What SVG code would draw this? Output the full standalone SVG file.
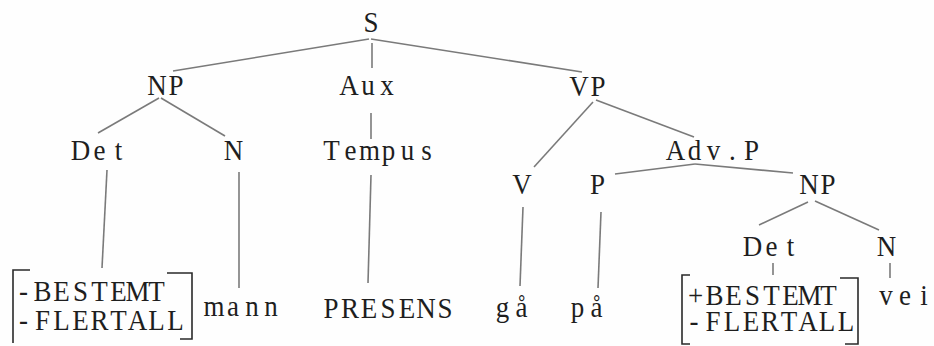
<svg xmlns="http://www.w3.org/2000/svg" width="934" height="346" viewBox="0 0 934 346">
<style>
text{font-family:"Liberation Serif","Times New Roman",serif;font-size:30px;fill:#1e1e1e;text-anchor:middle}
.e line{stroke:#7a7a7a;stroke-width:1.6;fill:none}
.b{stroke:#2a2a2a;stroke-width:1.6;fill:none}
</style>
<rect width="934" height="346" fill="#fefefe"/>
<g id="connectors" class="e">
<line x1="369" y1="39" x2="173" y2="71"/>
<line x1="372" y1="43" x2="372" y2="68"/>
<line x1="371" y1="39" x2="582" y2="72"/>
<line x1="159" y1="98" x2="98" y2="133"/>
<line x1="161" y1="98" x2="225" y2="136"/>
<line x1="371" y1="113" x2="371" y2="139"/>
<line x1="593" y1="102" x2="534" y2="167"/>
<line x1="596" y1="100" x2="694" y2="137"/>
<line x1="695" y1="164" x2="615" y2="174"/>
<line x1="695" y1="164" x2="793" y2="173"/>
<line x1="808" y1="202" x2="759" y2="225"/>
<line x1="815" y1="201" x2="879" y2="230"/>
<line x1="773" y1="263" x2="773" y2="275"/>
<line x1="890" y1="263" x2="890" y2="278"/>
<line x1="523" y1="207" x2="520" y2="286"/>
<line x1="601" y1="212" x2="598" y2="288"/>
<line x1="107" y1="170" x2="102" y2="268"/>
<line x1="239" y1="172" x2="239" y2="288"/>
<line x1="371" y1="175" x2="368" y2="283"/>
</g>
<g id="feat1-bracket"><path class="b" d="M30,270 H13 V343 M167,273 H192 V339 H180"/></g>
<g id="feat2-bracket"><path class="b" d="M690,275 H682 V344 H690 M840,278 H858 V344 H845"/></g>
<g transform="scale(0.9 1)">
<g id="S"><text x="412.22" y="32">S</text></g>
<g id="NP1"><text x="174.44 195.56" y="95">NP</text></g>
<g id="Aux"><text x="387.78 408.89 430" y="95">Aux</text></g>
<g id="VP"><text x="643.33 664.44" y="96">VP</text></g>
<g id="Det1"><text x="89.44 110.56 131.67" y="160">Det</text></g>
<g id="N1"><text x="259.44" y="160">N</text></g>
<g id="Tempus"><text x="368.33 389.44 410.56 431.67 452.78 473.89" y="160">Tempus</text></g>
<g id="AdvP"><text x="750.56 771.67 792.78 813.89 835" y="160">Adv.P</text></g>
<g id="V"><text x="580" y="194">V</text></g>
<g id="P"><text x="663.89" y="194">P</text></g>
<g id="NP2"><text x="898.89 920" y="194">NP</text></g>
<g id="Det2"><text x="836.11 857.22 878.33" y="256">Det</text></g>
<g id="N2"><text x="985" y="256">N</text></g>
<g id="feat1">
<text><tspan x="26.11 47.22 68.33 89.44 110.56 131.67 152.78 173.89" y="301">-BESTEMT</tspan><tspan x="26.11 47.22 68.33 89.44 110.56 131.67 152.78 173.89 195" y="330">-FLERTALL</tspan></text>
</g>
<g id="mann"><text x="237.78 258.89 280 301.11" y="316">mann</text></g>
<g id="PRESENS"><text x="367.78 388.89 410 431.11 452.22 473.33 494.44" y="318">PRESENS</text></g>
<g id="ga"><text x="558.33 579.44" y="317">gå</text></g>
<g id="pa"><text x="641.67 662.78" y="317">på</text></g>
<g id="feat2">
<text><tspan x="772.78 793.89 815 836.11 857.22 878.33 899.44 920.56" y="305">+BESTEMT</tspan><tspan x="771.11 792.22 813.33 834.44 855.56 876.67 897.78 918.89 940" y="331">-FLERTALL</tspan></text>
</g>
<g id="vei"><text x="984.44 1005.56 1026.67" y="305">vei</text></g>
</g>
</svg>
